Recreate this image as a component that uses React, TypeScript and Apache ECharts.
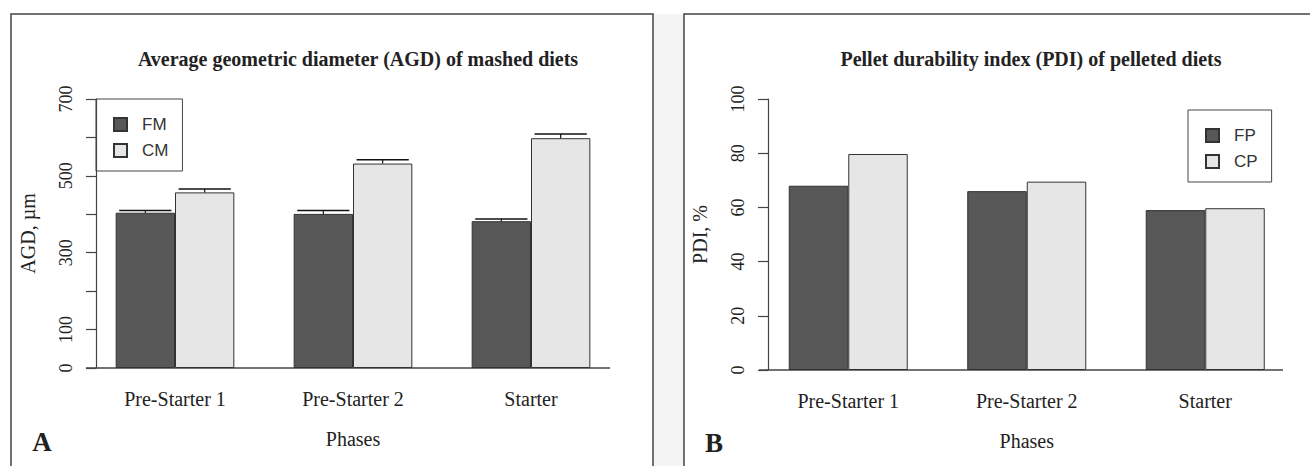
import React, { useEffect, useRef } from 'react';
import * as echarts from 'echarts';

const phases = ['Pre-Starter 1', 'Pre-Starter 2', 'Starter'];
const fmValues = [404, 401, 382];
const fmErrors = [6, 9, 6];
const cmValues = [457, 532, 598];
const cmErrors = [9, 10, 11];
const fpValues = [68, 66, 59];
const cpValues = [79.7, 69.5, 59.7];
const agdLabelsShown = [0, 100, 300, 500, 700];

const SERIF = '"Liberation Serif", "Times New Roman", serif';
const SANS = '"Liberation Sans", Arial, sans-serif';
const DARK = '#575757';
const LIGHT = '#e6e6e6';
const EDGE = '#333333';
const TEXT = '#222222';

function errorSeries(values: number[], errors: number[], side: number) {
  return {
    type: 'custom',
    xAxisIndex: 0,
    yAxisIndex: 0,
    silent: true,
    z: 5,
    encode: { x: 0, y: 1 },
    data: values.map((v, i) => [i, v, errors[i]]),
    renderItem: (params: any, api: any) => {
      const idx = api.value(0);
      const v = api.value(1);
      const e = api.value(2);
      const base = api.coord([idx, v]);
      const top = api.coord([idx, v + e]);
      const band = api.size([1, 0])[0];
      const barW = (band * (2 / 3)) / 2;
      const cx = base[0] + (side * barW) / 2;
      const capHalf = barW * 0.44;
      return {
        type: 'group',
        children: [
          { type: 'line', shape: { x1: cx, y1: base[1], x2: cx, y2: top[1] }, style: { stroke: '#111', lineWidth: 1.2 } },
          { type: 'line', shape: { x1: cx - capHalf, y1: top[1], x2: cx + capHalf, y2: top[1] }, style: { stroke: '#111', lineWidth: 1.5 } },
        ],
      };
    },
  };
}

function barSeries(name: string, values: number[], color: string, axisIdx: number) {
  return {
    name,
    type: 'bar',
    xAxisIndex: axisIdx,
    yAxisIndex: axisIdx,
    data: values,
    barGap: '0%',
    barCategoryGap: '33.33%',
    itemStyle: { color, borderColor: EDGE, borderWidth: 1 },
    emphasis: { disabled: true },
  };
}

const legendBase = {
  orient: 'vertical',
  icon: 'rect',
  itemWidth: 13,
  itemHeight: 13,
  itemGap: 9,
  padding: [17, 14, 12, 17],
  borderColor: '#444',
  borderWidth: 1,
  selectedMode: false,
  textStyle: { fontFamily: SANS, fontSize: 17, color: '#333', padding: [0, 0, 0, 10], lineHeight: 16 },
};

export default function App() {
  const ref = useRef<HTMLDivElement>(null);
  useEffect(() => {
    if (!ref.current) return;
    const chart = echarts.init(ref.current, null, { renderer: 'svg' });
    const catAxis = (gridIndex: number) => ({
      type: 'category',
      gridIndex,
      data: phases,
      axisLine: { show: false },
      axisTick: { show: false },
      axisLabel: { fontFamily: SERIF, fontSize: 20, color: TEXT, margin: 21 },
      name: 'Phases',
      nameLocation: 'middle',
      nameGap: 61,
      nameTextStyle: { fontFamily: SERIF, fontSize: 20, color: TEXT },
    });
    const valAxis = (gridIndex: number, max: number, interval: number, name: string, offset: number, shown: number[] | null) => ({
      type: 'value',
      gridIndex,
      min: 0,
      max,
      interval,
      offset,
      splitLine: { show: false },
      axisLine: { show: true, lineStyle: { color: '#444', width: 1.2 } },
      axisTick: { show: true, length: 10, lineStyle: { color: '#444', width: 1.2 } },
      axisLabel: {
        rotate: 90,
        fontFamily: SERIF,
        fontSize: 18,
        color: TEXT,
        margin: 21,
        formatter: (v: number) => (shown && shown.indexOf(v) < 0 ? '' : String(v)),
      },
      name,
      nameLocation: 'middle',
      nameGap: 58,
      nameTextStyle: { fontFamily: SERIF, fontSize: 20, color: TEXT },
    });
    chart.setOption({
      animation: false,
      backgroundColor: '#ffffff',
      title: [
        { text: 'Average geometric diameter (AGD) of mashed diets', left: 353, top: 44, textAlign: 'center', textStyle: { fontFamily: SERIF, fontSize: 20, fontWeight: 'bold', color: TEXT } },
        { text: 'Pellet durability index (PDI) of pelleted diets', left: 1026, top: 44, textAlign: 'center', textStyle: { fontFamily: SERIF, fontSize: 20, fontWeight: 'bold', color: TEXT } },
      ],
      legend: [
        { ...legendBase, data: ['FM', 'CM'], left: 96, top: 99 },
        { ...legendBase, data: ['FP', 'CP'], left: 1188, top: 110 },
      ],
      grid: [
        { left: 86, top: 99, width: 534, height: 269 },
        { left: 759, top: 99, width: 535.5, height: 271 },
      ],
      xAxis: [catAxis(0), catAxis(1)],
      yAxis: [
        valAxis(0, 700, 100, 'AGD, \u00b5m', -10, agdLabelsShown),
        valAxis(1, 100, 20, 'PDI, %', -9, null),
      ],
      series: [
        barSeries('FM', fmValues, DARK, 0),
        barSeries('CM', cmValues, LIGHT, 0),
        errorSeries(fmValues, fmErrors, -1),
        errorSeries(cmValues, cmErrors, 1),
        barSeries('FP', fpValues, DARK, 1),
        barSeries('CP', cpValues, LIGHT, 1),
      ],
      graphic: [
        { type: 'rect', z: -10, shape: { x: 653, y: 14, width: 31, height: 460 }, style: { fill: '#f4f4f4' } },
        { type: 'rect', z: -5, shape: { x: 11, y: 14, width: 642, height: 470 }, style: { fill: 'none', stroke: '#444', lineWidth: 1.5 } },
        { type: 'rect', z: -5, shape: { x: 684, y: 14, width: 700, height: 470 }, style: { fill: 'none', stroke: '#444', lineWidth: 1.5 } },
        { type: 'line', shape: { x1: 86, y1: 368, x2: 610, y2: 368 }, style: { stroke: '#444', lineWidth: 1.5 } },
        { type: 'line', shape: { x1: 759, y1: 370, x2: 1283, y2: 370 }, style: { stroke: '#444', lineWidth: 1.5 } },
        { type: 'text', x: 42, y: 442, style: { text: 'A', font: 'bold 27px ' + SERIF, fill: TEXT, textAlign: 'center', textVerticalAlign: 'middle' } },
        { type: 'text', x: 714, y: 443, style: { text: 'B', font: 'bold 27px ' + SERIF, fill: TEXT, textAlign: 'center', textVerticalAlign: 'middle' } },
      ],
    });
    return () => chart.dispose();
  }, []);
  return <div ref={ref} style={{ position: 'fixed', left: 0, top: 0, width: 1310, height: 466 }} />;
}
